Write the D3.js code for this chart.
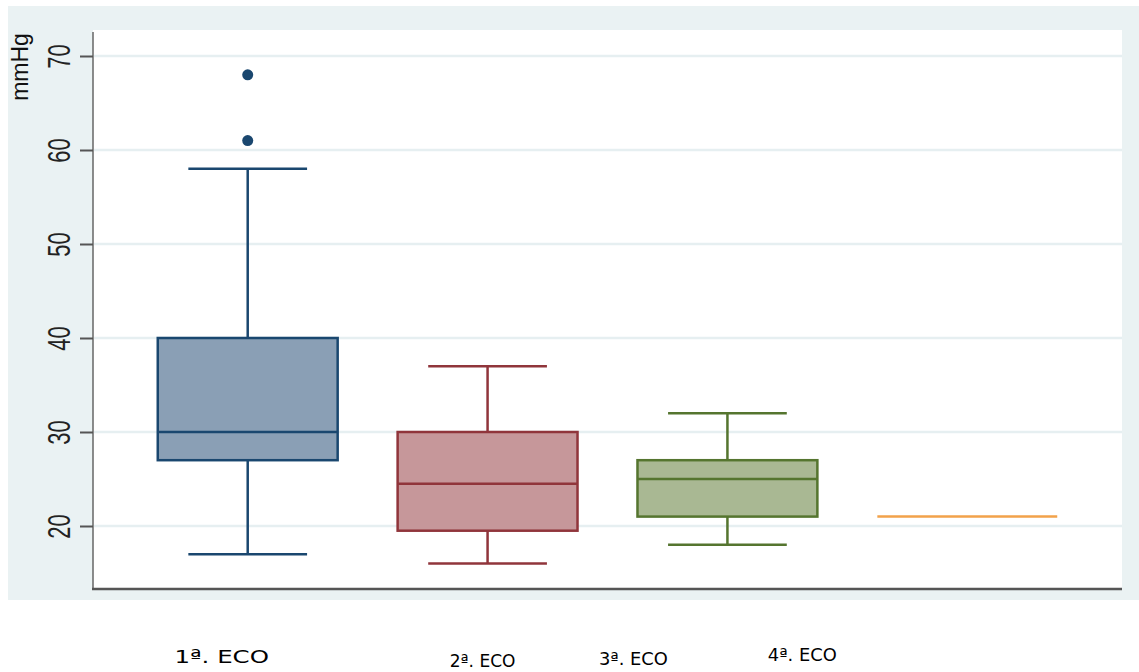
<!DOCTYPE html>
<html>
<head>
<meta charset="utf-8">
<script src="https://cdn.jsdelivr.net/npm/d3@7"></script>
<style>
  html, body { margin: 0; padding: 0; background: #fff; }
  svg { display: block; }
</style>
</head>
<body>
<svg id="chart"></svg>
<script>
// category labels and box statistics (mmHg)
const categories = ["1ª. ECO", "2ª. ECO", "3ª. ECO", "4ª. ECO"];
const lowerWhisker = [17, 16, 18, 21];
const q1 = [27, 19.5, 21, 21];
const median = [30, 24.5, 25, 21];
const q3 = [40, 30, 27, 21];
const upperWhisker = [58, 37, 32, 21];
const outliers = [[61, 68], [], [], []];
const yTicks = [20, 30, 40, 50, 60, 70];

const strokeColors = ["#1a476f", "#90353b", "#55752f", "#f2a24a"];
const fillColors = ["#8a9fb5", "#c6979a", "#a9b893", "#f2a24a"];
// the x labels sit a bit off-centre in the original (dx, y, font size, x-stretch)
const labelLayout = [[-26, 657, 18, 1.36], [-5, 661, 17, 1.0], [-94, 659, 17, 1.05], [-165, 655, 17, 1.05]];

const width = 1139, height = 672;
const plot = { left: 93, right: 1122, top: 30, bottom: 589 };

const svg = d3.select("#chart")
    .attr("width", width)
    .attr("height", height);

// outer grey-blue panel
svg.append("rect")
    .attr("x", 8).attr("y", 6)
    .attr("width", width - 8).attr("height", 594)
    .attr("fill", "#eaf2f3");

svg.append("rect")
    .attr("x", plot.left).attr("y", plot.top)
    .attr("width", plot.right - plot.left).attr("height", plot.bottom - plot.top)
    .attr("fill", "#fff");

const x = d3.scaleBand()
    .domain(categories)
    .range([plot.left, plot.right])
    .paddingInner(0.25)
    .paddingOuter(0.27);

const y = d3.scaleLinear()
    .domain([20, 70])
    .range([526, 56]);

// gridlines
svg.append("g")
    .selectAll("line")
    .data(yTicks)
    .join("line")
        .attr("x1", plot.left + 1).attr("x2", plot.right)
        .attr("y1", d => y(d)).attr("y2", d => y(d))
        .attr("stroke", "#e6eff1")
        .attr("stroke-width", 2.5);

// y axis
const yAxis = svg.append("g")
    .attr("transform", `translate(${plot.left},0)`)
    .call(d3.axisLeft(y).tickValues(yTicks).tickSize(13).tickPadding(0).tickFormat(d3.format("d")));
yAxis.select(".domain")
    .attr("d", `M0,${plot.top + 2}V${plot.bottom}`)
    .attr("stroke", "#666").attr("stroke-width", 1.5);
yAxis.selectAll(".tick line").attr("stroke", "#555").attr("stroke-width", 2);
yAxis.selectAll(".tick text")
    .attr("x", null).attr("dy", null)
    .attr("transform", "translate(-23,0) rotate(-90) scale(1,1.45)")
    .attr("text-anchor", "middle")
    .attr("font-family", "Liberation Sans, Arial, sans-serif")
    .attr("font-size", 22)
    .attr("fill", "#222");

svg.append("text")
    .attr("transform", "translate(28,67) rotate(-90)")
    .attr("text-anchor", "middle")
    .attr("font-family", "Liberation Sans, Arial, sans-serif")
    .attr("font-size", 23)
    .attr("fill", "#111")
    .text("mmHg");

// x axis line
svg.append("line")
    .attr("x1", plot.left - 1).attr("x2", plot.right)
    .attr("y1", plot.bottom).attr("y2", plot.bottom)
    .attr("stroke", "#555")
    .attr("stroke-width", 2.5);

// boxes
const boxes = categories.map((c, i) => ({
    cat: c, i,
    lo: lowerWhisker[i], q1: q1[i], med: median[i], q3: q3[i], hi: upperWhisker[i],
    out: outliers[i]
}));

const bw = x.bandwidth();
const capW = bw * 0.66;

const g = svg.append("g")
    .selectAll("g.box")
    .data(boxes)
    .join("g")
        .attr("class", "box")
        .attr("transform", d => `translate(${x(d.cat) + bw / 2},0)`);

g.each(function(d) {
    const sel = d3.select(this);
    const col = strokeColors[d.i];

    if (d.lo === d.hi) {
        sel.append("line")
            .attr("x1", -bw / 2).attr("x2", bw / 2)
            .attr("y1", y(d.med)).attr("y2", y(d.med))
            .attr("stroke", col).attr("stroke-width", 2.5);
        return;
    }

    // whiskers
    [[d.q3, d.hi], [d.q1, d.lo]].forEach(([a, b]) => {
        sel.append("line")
            .attr("x1", 0).attr("x2", 0)
            .attr("y1", y(a)).attr("y2", y(b))
            .attr("stroke", col).attr("stroke-width", 2.5);
        sel.append("line")
            .attr("x1", -capW / 2).attr("x2", capW / 2)
            .attr("y1", y(b)).attr("y2", y(b))
            .attr("stroke", col).attr("stroke-width", 2.5);
    });

    sel.append("rect")
        .attr("x", -bw / 2).attr("width", bw)
        .attr("y", y(d.q3)).attr("height", y(d.q1) - y(d.q3))
        .attr("fill", fillColors[d.i])
        .attr("stroke", col).attr("stroke-width", 2.5);

    sel.append("line")
        .attr("x1", -bw / 2).attr("x2", bw / 2)
        .attr("y1", y(d.med)).attr("y2", y(d.med))
        .attr("stroke", col).attr("stroke-width", 2.5);

    sel.selectAll("circle")
        .data(d.out)
        .join("circle")
            .attr("cx", 0).attr("cy", v => y(v))
            .attr("r", 5.5)
            .attr("fill", col);
});

// category labels
svg.append("g")
    .selectAll("text")
    .data(categories)
    .join("text")
        .attr("transform", (d, i) => {
            const [dx, ty, , sx] = labelLayout[i];
            return `translate(${x(d) + bw / 2 + dx},${ty}) scale(${sx},1)`;
        })
        .attr("dy", "0.35em")
        .attr("text-anchor", "middle")
        .attr("font-family", "DejaVu Sans, sans-serif")
        .attr("font-size", (d, i) => labelLayout[i][2])
        .attr("fill", "#000")
        .text(d => d);
</script>
</body>
</html>
